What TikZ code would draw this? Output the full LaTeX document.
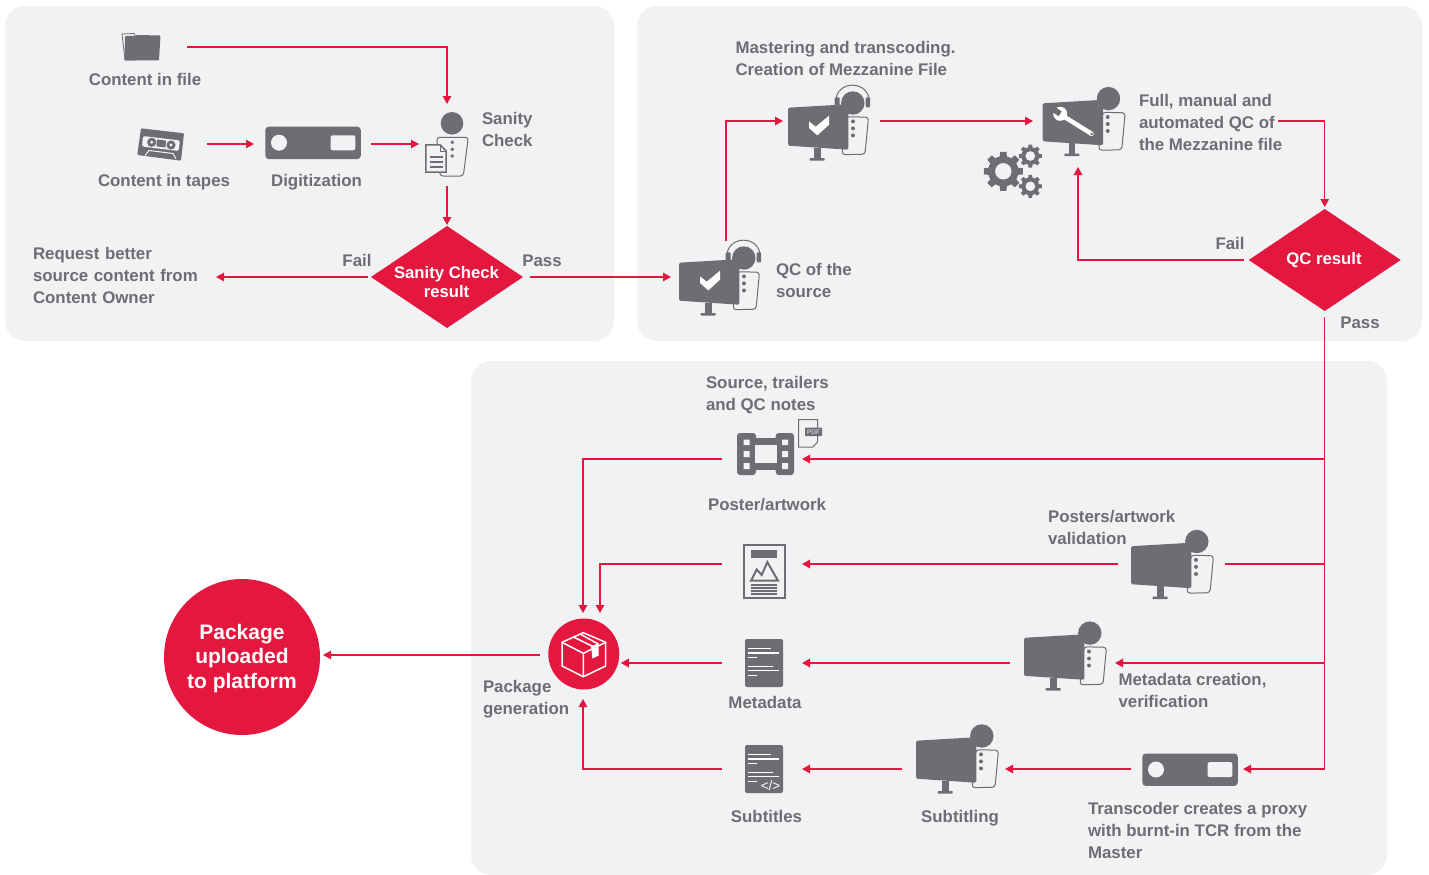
\documentclass[tikz,border=0pt]{standalone}
\usepackage{fontspec}
\setmainfont{Liberation Sans}
\usetikzlibrary{arrows.meta,shapes.geometric}
\definecolor{panelc}{HTML}{F1F2F4}
\definecolor{redc}{HTML}{E4173E}
\definecolor{grayc}{HTML}{6D6E71}
\def\bs{0}
\tikzset{
  panel/.style={fill=panelc,draw=none,rounded corners=20pt},
  bx/.style 2 args={minimum width=#1pt,minimum height=#2pt,inner sep=0pt,outer sep=0pt},
  lbl/.style={font=\fontsize{16.85}{22}\selectfont\bfseries,text=grayc,inner sep=0pt,outer sep=0pt,align=left,anchor=west,yshift=0pt},
  clbl/.style={font=\fontsize{16.85}{22}\selectfont\bfseries,text=grayc,inner sep=0pt,outer sep=0pt,text height=12pt,text depth=0pt},
  wlbl/.style={font=\fontsize{16.7}{19}\selectfont\bfseries,text=white,inner sep=0pt,align=center,yshift=-1pt},
  dia/.style={shape=diamond,fill=redc,draw=none,shape aspect=1.5,inner sep=0pt,outer sep=0pt,minimum width=152pt,minimum height=102pt},
  conn/.style={draw=redc,line width=1.4pt,-{Triangle[length=8pt,width=8.5pt]}},
  plain/.style={draw=redc,line width=1.4pt},
  ic/.style={fill=grayc,draw=none},
  cut/.style={fill=panelc,draw=none},
  outline/.style={fill=panelc,draw=grayc,line width=1pt},
  person/.pic={
    \path[outline,rounded corners=3pt] (58+\bs,9) -- (80.5+\bs,9.5) -- (77+\bs,46.5) -- (54+\bs,47) -- cycle;
    \fill[grayc] (65,13.7) circle (2pt) (65,20.7) circle (2pt) (65,27.7) circle (2pt);
    \fill[grayc] (64.8+.5*\bs,-4.7) circle (11.7pt);
    \path[ic,rounded corners=1.5pt] (0,0) -- (60.3,-3.5) -- (60.3,42) -- (0,38) -- cycle;
    \path[ic] (26,40) rectangle (32.7,50.5);
    \path[ic,rounded corners=.6pt] (21.7,50.3) rectangle (36.7,52.9);
  },
  monitorhead/.pic={
    \draw[grayc,line width=1pt] (47.8,-6) .. controls (47.8,-28) and (81.2,-28) .. (81.2,-6);
    \path[ic,rounded corners=1pt] (46.6,-10.3) rectangle (51.7,-2);
    \path[ic,rounded corners=1pt] (77.7,-10.3) rectangle (82.2,-.3);
    \pic {person};
    \fill[white] (21,13.7) -- (27.7,19) -- (41,8) -- (41,17) -- (29.3,27.7) -- (21,20.3) -- cycle;
  },
  wrench/.pic={
    \draw[white,line width=4.5pt,line cap=round] (20,12.5) -- (48.8,30.5);
    \fill[white] (17.5,10.5) circle (7pt);
    \fill[grayc] (19,8.1) -- (16,12.9) -- (8,8) -- (11,2.8) -- cycle;
    \fill[grayc] (49,30.7) circle (1.3pt);
  },
  device/.pic={
    \path[ic,rounded corners=3.5pt] (0,0) rectangle (95.5,32.4);
    \fill[panelc] (13.7,16) circle (8pt);
    \path[cut,rounded corners=2pt] (65.4,8.6) rectangle (90,23.6);
  },
  gear/.pic={
    \fill[grayc] (0,0) circle (.78*\gearR pt);
    \foreach \a in {0,45,...,315}{
      \fill[grayc,rotate=\a] (-.2*\gearR pt,.6*\gearR pt) -- (-.16*\gearR pt,\gearR pt) -- (.16*\gearR pt,\gearR pt) -- (.2*\gearR pt,.6*\gearR pt) -- cycle;
    }
    \fill[panelc] (0,0) circle (.42*\gearR pt);
  },
  textdoc/.pic={
    \path[ic,rounded corners=2pt] (0,0) rectangle (38,48);
    \draw[white,line width=1.1pt] (2.7,9.5) -- (25.7,9.5) (2.7,14) -- (34.3,14) (2.7,18.7) -- (11.7,18.7)
      (2.7,27.2) -- (28.3,27.2) (2.7,31.8) -- (34.3,31.8) (2.7,36.3) -- (11.7,36.3);
  },
}
\begin{document}
\begin{tikzpicture}[x=1pt,y=-1pt]
\useasboundingbox (0,0) rectangle (1429,875);
\fill[white] (0,0) rectangle (1429,875);
\clip (0,0) rectangle (1429,875);
% panels
\path[panel] (5,6) rectangle (614,341);
\path[panel] (637,6) rectangle (1422,341);
\path[panel] (471,361) rectangle (1387,875);

% ---- icons (drawn shapes)
% folder
\path[fill=panelc,draw=grayc,line width=.8pt] (122,34) -- (134,33.5) -- (135,35) -- (135,60) -- (125,60) -- cycle;
\path[ic,rounded corners=.8pt] (125,36) -- (134,36) -- (137,35) -- (160.5,35.5) -- (159,60.3) -- (124.5,60.3) -- cycle;
% cassette
\path[ic,rounded corners=1pt] (141,128.3) -- (184,133.3) -- (181,160.7) -- (137.3,155) -- cycle;
\path[fill=panelc,rounded corners=2pt] (143,136) -- (180,140.5) -- (178.5,151) -- (142,146.5) -- cycle;
\fill[grayc] (151.7,142.3) circle (4.6pt) (171,145) circle (4.6pt);
\fill[panelc] (151.7,142.3) circle (1.6pt) (171,145) circle (1.6pt);
\path[ic] (157,139.5) -- (166,140.6) -- (165.5,147.5) -- (156.5,146.4) -- cycle;
\path[draw=panelc,line width=1pt] (145,155.5) -- (149,150.5) -- (173,153.5) -- (176,159);
% digitizer + transcoder
\pic at (265.3,126.7) {device};
\pic at (1142.3,753.5) {device};
% sanity person
\fill[grayc] (452,123.3) circle (11.3pt);
\path[outline,rounded corners=3pt] (436.7,137.3) -- (468.3,137.3) -- (463.3,176) -- (440,176) -- cycle;
\fill[grayc] (452.3,142.3) circle (1.9pt) (452.3,149.3) circle (1.9pt) (452.3,156) circle (1.9pt);
\path[fill=panelc,draw=grayc,line width=1.5pt] (425.8,144.8) -- (440,144.8) -- (446.2,151) -- (446.2,172.2) -- (425.8,172.2) -- cycle;
\draw[grayc,line width=1pt] (440,144.8) -- (440,151) -- (446.2,151);
\draw[grayc,line width=1.8pt] (430,156.7) -- (443,156.7) (430,161.7) -- (443,161.7) (430,166.7) -- (443,166.7);
% monitors
\pic at (679,262.7) {monitorhead};
\pic at (788,107.7) {monitorhead};
\def\bs{2}
\begin{scope}[shift={(1042.7,103.3)},scale=1.03]
\pic {person};
\pic {wrench};
\end{scope}
\begin{scope}[shift={(1131,546.2)},scale=1.03]\pic {person};\end{scope}
\begin{scope}[shift={(1024,637.8)},scale=1.03]\pic {person};\end{scope}
\begin{scope}[shift={(916,740.7)},scale=1.03]\pic {person};\end{scope}
% gears
\def\gearR{19.5}\pic at (1003.3,171.3) {gear};
\def\gearR{11.5}\pic at (1030.3,156) {gear};
\pic at (1030.3,186.3) {gear};
% film
\path[ic,rounded corners=3pt] (737,433) rectangle (756,475);
\path[ic,rounded corners=3pt] (775.7,433) rectangle (794,475);
\path[ic] (755,438.3) rectangle (777,470);
\path[cut] (755,445) rectangle (776.7,463);
\path[cut] (743.5,439.5) rectangle (749.5,445) (743.5,451) rectangle (749.5,457) (743.5,463) rectangle (749.5,469)
  (782,439.5) rectangle (788,445) (782,451) rectangle (788,457) (782,463) rectangle (788,469);
% pdf page
\path[fill=panelc,draw=grayc,line width=1pt] (798.5,419.5) -- (817.5,419.5) -- (817.5,442) -- (813,447) -- (798.5,447) -- cycle;
\path[ic,rounded corners=.7pt] (805,427.5) rectangle (822,436);
\node[font=\fontsize{6.5}{7}\selectfont,text=panelc,inner sep=0pt] (pdftxt) at (813.5,431.8) {PDF};
% poster doc
\path[fill=panelc,draw=grayc,line width=2pt] (744,545) rectangle (785.2,598.2);
\path[ic] (751,550) rectangle (777,558);
\draw[grayc,line width=2pt,line join=miter] (751,580.7) -- (756.7,569.5) -- (761.7,575) -- (767.3,562) -- (778,580.7) -- cycle;
\draw[grayc,line width=2pt] (751,584.8) -- (777,584.8) (751,588) -- (777,588) (751,591.2) -- (777,591.2) (751,594.2) -- (777,594.2);
% text docs
\pic at (745,639) {textdoc};
\pic at (745,745) {textdoc};
\node[font=\fontsize{13.5}{14}\selectfont,text=white,inner sep=0pt] (codetag) at (770.5,786) {</>};
% package circle
\node[circle,fill=redc,inner sep=0pt,outer sep=0pt,minimum size=71pt] (pkg) at (583.8,654) {};
\begin{scope}[white,line width=1.5pt,line join=round]
\draw (583.3,632.7) -- (605.7,642.3) -- (605.7,666) -- (583.3,676.7) -- (562,666) -- (562,642.3) -- cycle;
\draw (562,642.3) -- (583.3,653.3) -- (605.7,642.3) (583.3,653.3) -- (583.3,676.7);
\draw (573.5,637) -- (595,647.5) (580,634) -- (598.3,644);
\fill[white] (591,646.5) -- (598.5,643) -- (598.5,655.5) -- (592.5,658.5) -- cycle;
\end{scope}
% upload circle
\node[circle,fill=redc,inner sep=0pt,outer sep=0pt,minimum size=156pt] (upl) at (242,657) {};
\node[text=white,inner sep=0pt,align=center,font=\fontsize{21}{24.5}\selectfont\bfseries] (upltxt) at (242,658.5) {Package\\uploaded\\to platform};

% ---- named boxes used as connector ends
\node[bx={70}{34}] (file) at (152,47) {};
\node[bx={75}{34}] (tape) at (169.5,144) {};
\node[bx={117}{34}] (digit) at (312.5,144) {};
\node[bx={56}{82}] (sanity) at (447,145) {};
\node[dia] (d1) at (447,277) {};
\node[wlbl] (d1txt) at (446.5,281.5) {Sanity Check\\result};
\node[bx={110}{75}] (qcs) at (726,278.5) {};
\node[bx={97}{80}] (master) at (831.5,121) {};
\node[bx={90}{92}] (full) at (1078,121) {};
\node[dia] (d2) at (1324.7,260) {};
\node[wlbl] (d2txt) at (1324,259.5) {QC result};
\node[bx={80}{60}] (film) at (762,459) {};
\node[bx={80}{56}] (poster) at (762,564) {};
\node[bx={80}{50}] (meta) at (762,663) {};
\node[bx={80}{50}] (subs) at (762,769) {};
\node[bx={107}{70}] (valid) at (1171.5,564) {};
\node[bx={105}{70}] (metac) at (1062.5,663) {};
\node[bx={103}{70}] (subt) at (953.5,769) {};
\node[bx={112}{34}] (trans) at (1187,769) {};

% ---- text
\node[clbl] (t1) at (145,79) {Content in file};
\node[clbl] (t2) at (164,180) {Content in tapes};
\node[clbl] (t3) at (316.5,180) {Digitization};
\node[lbl] (t4) at (482,129) {Sanity\\Check};
\node[lbl,text width=183pt] (req) at (33,275) {Request better\\source content from\\Content Owner};
\node[clbl] (t6) at (357,260) {Fail};
\node[clbl] (t7) at (542,260) {Pass};
\node[lbl] (t8) at (735.5,58) {Mastering and transcoding.\\Creation of Mezzanine File};
\node[lbl] (t9) at (776,280) {QC of the\\source};
\node[lbl] (ftxt) at (1139,122) {Full, manual and\\automated QC of\\the Mezzanine file};
\node[clbl] (t11) at (1230,243) {Fail};
\node[clbl] (t12) at (1360,322) {Pass};
\node[lbl] (t13) at (706,395.5) {Source, trailers\\and QC notes};
\node[clbl] (t14) at (767,504) {Poster/artwork};
\node[lbl] (t15) at (1048,527) {Posters/artwork\\validation};
\node[clbl] (t16) at (765,702) {Metadata};
\node[lbl] (t17) at (1118.5,690) {Metadata creation,\\verification};
\node[lbl] (t18) at (483,699.5) {Package\\generation};
\node[clbl] (t19) at (766.5,816) {Subtitles};
\node[clbl] (t20) at (960,816) {Subtitling};
\node[lbl] (t21) at (1088,830) {Transcoder creates a proxy\\with burnt-in TCR from the\\Master};

% ---- connectors
\draw[conn] (file.east) -| (sanity.north);
\draw[conn] (tape.east) -- (digit.west);
\draw[conn] (digit.east) -- (digit.east -| sanity.west);
\draw[conn] (sanity.south) -- ([yshift=1pt]d1.north);
\draw[conn] ([xshift=-3pt]d1.west) -- (d1.west -| req.east);
\draw[conn] ([xshift=7pt]d1.east) -- (d1.east -| qcs.west);
\draw[conn] (qcs.north) |- (master.west);
\draw[conn] (master.east) -- (full.west);
\draw[conn] ([xshift=-4.5pt]ftxt.east |- full.east) -| ([yshift=2pt]d2.north);
\draw[conn] ([xshift=-5pt]d2.west) -| (full.south);
\draw[conn] ([yshift=-6pt]d2.south) |- (trans.east);
\draw[conn] (d2.south |- film.east) -- (film.east);
\draw[plain] (d2.south |- valid.east) -- (valid.east);
\draw[conn] (d2.south |- metac.east) -- (metac.east);
\draw[conn] (film.west) -| ([xshift=-.8pt,yshift=5.5pt]pkg.north);
\draw[conn] (poster.west) -| ([xshift=16.2pt,yshift=5.5pt]pkg.north);
\draw[conn] (valid.west) -- (poster.east);
\draw[conn] (metac.west) -- (meta.east);
\draw[conn] (meta.west) -- ([xshift=1.5pt]meta.west -| pkg.east);
\draw[conn] (trans.west) -- (subt.east);
\draw[conn] (subt.west) -- (subs.east);
\draw[conn] (subs.west) -| ([xshift=-.8pt,yshift=-9.5pt]pkg.south);
\draw[conn] ([xshift=-8pt]pkg.west |- 0,655) -- ([xshift=3pt]upl.east |- 0,655);
\end{tikzpicture}
\end{document}
